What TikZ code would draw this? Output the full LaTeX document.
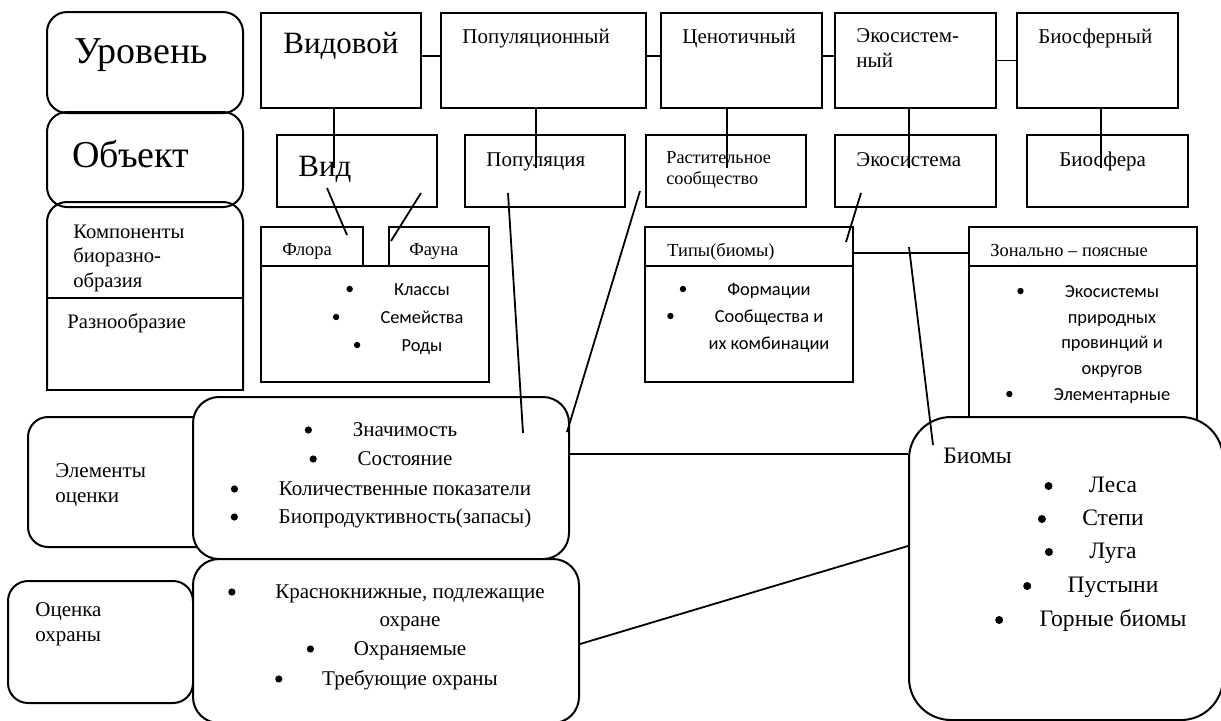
\documentclass[tikz,border=0pt]{standalone}
\usepackage{fontspec}
\setmainfont{Liberation Serif}
\newfontfamily\calibfont{Carlito}
\usetikzlibrary{fit}
\tikzset{box/.style = {draw, line width=1pt, inner sep=0}}
\tikzset{rbox/.style = {box, rounded corners=10pt}}
\tikzset{txt/.style = {anchor=base west, inner sep=0}}
\tikzset{item/.style = {anchor=base, inner sep=0}}
\tikzset{link/.style = {line width=0.9pt}}
\newcommand{\fs}[1]{\fontsize{#1}{#1}\selectfont}
\newcommand{\bul}[3]{\fill ([shift={(-#2,-6)}]#1.base west) circle [radius=#3];}

\begin{document}
\begin{tikzpicture}[x=0.5pt, y=-0.5pt]
    \clip (0,0) rectangle (1221,720);
    \fill[white] (0,0) rectangle (1221,720);
    % left column
    \node[rbox, fit={(47,12) (243,113)}] (lvl) {};
    \node[rbox, fit={(47,112) (243,207)}] (obj) {};
    \draw[line width=1pt, rounded corners=10pt] (47,390) -- (47,202) -- (243,202) -- (243,390);
    \draw[line width=1pt, line cap=rect] (47,390) -- (243,390);
    \draw[line width=1pt] (47,298) -- (243,298);
    \node[txt, font=\fs{19}] (t-lvl) at (74,63) {Уровень};
    \node[txt, font=\fs{19}] (t-obj) at (72,167) {Объект};
    \foreach \s [count=\i] in {Компоненты, биоразно-, образия} {
      \node[txt, font=\fs{10.3}] (t-komp\i) at (73,{238+24.5*(\i-1)}) {\s};
    }
    \node[txt, font=\fs{10.3}] (t-div) at (67,328) {Разнообразие};
    % levels
    \node[box, fit={(261,13) (421,108)}] (vid-lvl) {};
    \node[box, fit={(441,13) (646,108)}] (pop-lvl) {};
    \node[box, fit={(661,13) (822,108)}] (cen-lvl) {};
    \node[box, fit={(835,13) (996,108)}] (eco-lvl) {};
    \node[box, fit={(1017,13) (1178,108)}] (bio-lvl) {};
    \node[txt, font=\fs{15.5}] (t-vid-lvl) at (283,53) {Видовой};
    \node[txt, font=\fs{10.5}] (t-pop-lvl) at (462,43) {Популяционный};
    \node[txt, font=\fs{10.5}] (t-cen-lvl) at (682,43) {Ценотичный};
    \node[txt, font=\fs{10.5}] (t-eco-lvl) at (856,42) {Экосистем-};
    \node[txt, font=\fs{10.5}] (t-eco-lvl2) at (856,67) {ный};
    \node[txt, font=\fs{10.5}] (t-bio-lvl) at (1038,43) {Биосферный};
    % objects
    \node[box, fit={(277,135) (437,207)}] (vid-obj) {};
    \node[box, fit={(465,135) (625,207)}] (pop-obj) {};
    \node[box, fit={(646,135) (806,207)}] (cen-obj) {};
    \node[box, fit={(835,135) (996,207)}] (eco-obj) {};
    \node[box, fit={(1027,135) (1188,207)}] (bio-obj) {};
    \node[txt, font=\fs{15.5}] (t-vid-obj) at (298,176) {Вид};
    \node[txt, font=\fs{10.5}] (t-pop-obj) at (486,166) {Популяция};
    \node[txt, font=\fs{9.1}] (t-cen-obj) at (666,163) {Растительное};
    \node[txt, font=\fs{9.1}] (t-cen-obj2) at (666,184) {сообщество};
    \node[txt, font=\fs{10.5}] (t-eco-obj) at (856,166) {Экосистема};
    \node[txt, font=\fs{10.5}] (t-bio-obj) at (1059,166) {Биосфера};
    \draw[link] ([yshift=2.25pt]vid-lvl.east) -- ([yshift=2.25pt]pop-lvl.west);
    \draw[link] ([yshift=2.25pt]pop-lvl.east) -- ([yshift=2.25pt]cen-lvl.west);
    \draw[link] ([yshift=2.25pt]cen-lvl.east) -- ([yshift=2.25pt]eco-lvl.west);
    \draw[link] (eco-lvl.east) -- (bio-lvl.west);
    \foreach \n/\x in {vid/334, pop/536, cen/727, eco/909, bio/1101} {
      \coordinate (\n-end) at (\x,168);
      \draw[link] (\n-lvl.south -| \n-end) -- (\n-end);
    }
    % components
    \node[box, fit={(261,227) (363,266)}] (flora) {};
    \node[box, fit={(389,227) (489,266)}] (fauna) {};
    \node[box, fit={(261,266) (489,382)}] (taxa) {};
    \node[txt, font=\fs{9.2}] (t-flora) at (282,255) {Флора};
    \node[txt, font=\fs{9.2}] (t-fauna) at (409,255) {Фауна};
    \foreach \s/\yy [count=\i] in {Классы/295, Семейства/323, Роды/351} {
      \node[item, font=\calibfont\fs{9.2}] (taxa-\i) at (422,\yy) {\s};
      \bul{taxa-\i}{44}{1.6pt}
    }
    \node[box, fit={(645,227) (853,266)}] (types) {};
    \node[box, fit={(645,266) (853,382)}] (types-list) {};
    \node[txt, font=\fs{9.2}] (t-types) at (667,256) {Типы(биомы)};
    \foreach \s/\yy/\b [count=\i] in {Формации/295/1, Сообщества и/322/1, их комбинации/349/0} {
      \node[item, font=\calibfont\fs{9.2}] (types-\i) at (769,\yy) {\s};
      \ifnum\b=1 \bul{types-\i}{44}{1.6pt}\fi
    }
    \node[box, fit={(969,227) (1197,266)}] (zonal) {};
    \node[box, fit={(969,266) (1197,445)}] (zonal-list) {};
    \node[txt, font=\fs{9.2}] (t-zonal) at (990,256) {Зонально – поясные};
    \foreach \s/\yy/\b [count=\i] in {Экосистемы/297/1, природных/323/0, провинций и/348/0, округов/374/0, Элементарные/400/1} {
      \node[item, font=\calibfont\fs{9.2}] (zonal-\i) at (1112,\yy) {\s};
      \ifnum\b=1 \bul{zonal-\i}{44}{1.6pt}\fi
    }
    % assessment
    \node[rbox, fit={(28,417) (230,547)}] (elem) {};
    \node[txt, font=\fs{10.5}] (t-elem) at (55,477) {Элементы};
    \node[txt, font=\fs{10.5}] (t-elem2) at (55,502) {оценки};
    \node[rbox, fill=white, rounded corners=13pt, fit={(193,397) (569,559)}] (crit) {};
    \foreach \s/\yy [count=\i] in {Значимость/436, Состояние/465, Количественные показатели/495, Биопродуктивность(запасы)/523} {
      \node[item, font=\fs{10.5}] (crit-\i) at (405,\yy) {\s};
      \bul{crit-\i}{44}{1.8pt}
    }
    \node[rbox, fit={(8,581) (193,703)}] (prot) {};
    \node[txt, font=\fs{10.5}] (t-prot) at (35,616) {Оценка};
    \node[txt, font=\fs{10.5}] (t-prot2) at (35,641) {охраны};
    \node[rbox, fill=white, rounded corners=13pt, fit={(193,559) (579,723)}] (prot-list) {};
    \foreach \s/\yy/\b [count=\i] in {{Краснокнижные, подлежащие}/598/1, охране/626/0, Охраняемые/655/1, Требующие охраны/685/1} {
      \node[item, font=\fs{10.5}] (prot-\i) at (410,\yy) {\s};
      \ifnum\b=1 \bul{prot-\i}{43}{1.8pt}\fi
    }
    \node[rbox, fill=white, rounded corners=21pt, fit={(909,417) (1223,720)}] (biomes) {};
    \node[txt, font=\fs{11.8}] (t-biomes) at (943,463) {Биомы};
    \foreach \s/\yy [count=\i] in {Леса/492, Степи/525, Луга/558, Пустыни/592, Горные биомы/626} {
      \node[item, font=\fs{11.8}] (biomes-\i) at (1113,\yy) {\s};
      \bul{biomes-\i}{40}{2pt}
    }
    % links
    \coordinate (vid-a) at (327,188);
    \coordinate (flora-a) at (347,235);
    \coordinate (vid-b) at (421,193);
    \coordinate (fauna-a) at (391,241);
    \coordinate (pop-a) at (508,193);
    \coordinate (crit-a) at (523,433);
    \coordinate (cen-a) at (640,191);
    \coordinate (crit-b) at (567,432);
    \coordinate (eco-a) at (861,193);
    \coordinate (types-a) at (846,242);
    \coordinate (zonal-a) at (909,247);
    \coordinate (biomes-a) at (933,445);
    \draw[link] (vid-a) -- (flora-a);
    \draw[link] (vid-b) -- (fauna-a);
    \draw[link] (pop-a) -- (crit-a);
    \draw[link] (cen-a) -- (crit-b);
    \draw[link] (eco-a) -- (types-a);
    \draw[link] ([yshift=-3.1pt]types.east) -- ([yshift=-3.1pt]zonal.west);
    \draw[link] (zonal-a) -- (biomes-a);
    \draw[link] ([yshift=12pt]crit.east) -- ([yshift=12pt]crit.east -| biomes.west);
    \draw[link] ([yshift=-1.5pt]prot-list.east) -- ([yshift=11.25pt]biomes.west);
\end{tikzpicture}
\end{document}
